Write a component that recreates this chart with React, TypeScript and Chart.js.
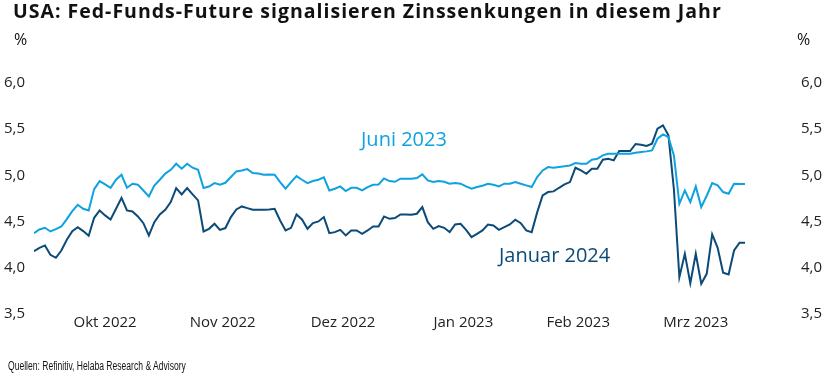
import React, { useEffect, useRef } from "react";
import { Chart, registerables } from "chart.js";

Chart.register(...registerables);

// Business-day range covered by the chart
const startDate = "2022-09-28";
const endDate = "2023-03-29";

// Month tick labels (placed at the middle of each calendar month)
const monthKeys = ["2022-10", "2022-11", "2022-12", "2023-01", "2023-02", "2023-03"];
const monthLabels = ["Okt 2022", "Nov 2022", "Dez 2022", "Jan 2023", "Feb 2023", "Mrz 2023"];

// Y-axis ticks
const yTicks = [3.5, 4.0, 4.5, 5.0, 5.5, 6.0];

// Fed-Funds-Future, Juni 2023 (%)
const juni2023 = [
  4.375, 4.415, 4.433, 4.393, 4.418, 4.447, 4.527, 4.613, 4.682, 4.639,
  4.621, 4.852, 4.938, 4.902, 4.866, 4.953, 5.007, 4.866, 4.91, 4.9,
  4.837, 4.772, 4.89, 4.953, 5.02, 5.06, 5.126, 5.072, 5.126, 5.083,
  5.06, 4.863, 4.88, 4.917, 4.9, 4.92, 4.982, 5.043, 5.054, 5.068,
  5.025, 5.02, 5.007, 5.01, 5.007, 4.928, 4.856, 4.928, 4.993, 4.953,
  4.917, 4.939, 4.953, 4.978, 4.837, 4.856, 4.881, 4.83, 4.866, 4.866,
  4.837, 4.874, 4.899, 4.902, 4.967, 4.939, 4.931, 4.964, 4.964, 4.964,
  4.971, 5.011, 4.946, 4.928, 4.939, 4.931, 4.91, 4.917, 4.91, 4.881,
  4.856, 4.874, 4.888, 4.91, 4.899, 4.881, 4.91, 4.91, 4.928, 4.91,
  4.892, 4.874, 4.982, 5.054, 5.09, 5.083, 5.09, 5.098, 5.108, 5.134,
  5.126, 5.126, 5.17, 5.18, 5.217, 5.235, 5.235, 5.235, 5.235, 5.235,
  5.245, 5.253, 5.26, 5.271, 5.397, 5.444, 5.415, 5.217, 4.693, 4.837,
  4.711, 4.881, 4.657, 4.78, 4.917, 4.892, 4.82, 4.801, 4.91, 4.906,
  4.906,
];

// Fed-Funds-Future, Januar 2024 (%)
const januar2024 = [
  4.18, 4.216, 4.242, 4.14, 4.108, 4.187, 4.303, 4.397, 4.44, 4.397,
  4.346, 4.541, 4.621, 4.567, 4.523, 4.639, 4.758, 4.621, 4.61, 4.556,
  4.483, 4.35, 4.494, 4.577, 4.628, 4.711, 4.863, 4.794, 4.863, 4.794,
  4.729, 4.393, 4.422, 4.477, 4.41, 4.43, 4.549, 4.632, 4.664, 4.646,
  4.628, 4.628, 4.628, 4.632, 4.639, 4.512, 4.404, 4.433, 4.577, 4.523,
  4.422, 4.483, 4.502, 4.549, 4.375, 4.386, 4.411, 4.35, 4.404, 4.404,
  4.368, 4.404, 4.447, 4.447, 4.556, 4.53, 4.538, 4.577, 4.577, 4.574,
  4.585, 4.657, 4.494, 4.422, 4.451, 4.433, 4.386, 4.469, 4.476, 4.411,
  4.332, 4.368, 4.404, 4.469, 4.458, 4.411, 4.44, 4.469, 4.52, 4.483,
  4.404, 4.386, 4.6, 4.783, 4.82, 4.827, 4.866, 4.902, 4.928, 5.083,
  5.054, 5.018, 5.072, 5.072, 5.17, 5.18, 5.163, 5.264, 5.264, 5.264,
  5.34, 5.332, 5.318, 5.343, 5.505, 5.542, 5.433, 4.85, 3.898, 4.151,
  3.833, 4.151, 3.827, 3.935, 4.361, 4.216, 3.946, 3.927, 4.187, 4.271,
  4.271,
];

const LIGHT = "#0ea2e0";
const DARK = "#0c4a78";
const FONT = "'Open Sans', 'Noto Sans', sans-serif";

function businessDays(from: string, to: string): string[] {
  const out: string[] = [];
  const d = new Date(from + "T00:00:00Z");
  const end = new Date(to + "T00:00:00Z");
  while (d <= end) {
    const wd = d.getUTCDay();
    if (wd !== 0 && wd !== 6) out.push(d.toISOString().slice(0, 10));
    d.setUTCDate(d.getUTCDate() + 1);
  }
  return out;
}

function monthMiddles(): number[] {
  // business-day index positions, extended to cover complete months
  const all = businessDays(startDate, "2023-03-31");
  return monthKeys.map((k) => {
    const idx = all.map((s, i) => (s.startsWith(k) ? i : -1)).filter((i) => i >= 0);
    return (idx[0] + idx[idx.length - 1]) / 2;
  });
}

export default function App() {
  const ref = useRef<HTMLCanvasElement | null>(null);

  useEffect(() => {
    const dates = businessDays(startDate, endDate);
    const mids = monthMiddles();
    const toPts = (arr: number[]) => arr.map((y, i) => ({ x: i, y }));
    const tickFont = { family: FONT, size: 15 };
    const fmt = (v: any) => Number(v).toFixed(1).replace(".", ",");
    const chart = new Chart(ref.current as HTMLCanvasElement, {
      type: "line",
      data: {
        datasets: [
          {
            label: "Juni 2023",
            data: toPts(juni2023),
            borderColor: LIGHT,
            borderWidth: 2,
            pointRadius: 0,
            tension: 0,
            yAxisID: "y",
          },
          {
            label: "Januar 2024",
            data: toPts(januar2024),
            borderColor: DARK,
            borderWidth: 2,
            pointRadius: 0,
            tension: 0,
            yAxisID: "y",
          },
        ],
      },
      options: {
        animation: false,
        responsive: false,
        maintainAspectRatio: false,
        layout: { padding: { left: 2, right: 5, top: 83, bottom: 47 } },
        plugins: { legend: { display: false }, tooltip: { enabled: false } },
        scales: {
          x: {
            type: "linear",
            min: 0,
            max: dates.length - 1,
            grid: { display: false, drawTicks: false },
            border: { display: false },
            afterBuildTicks: (axis: any) => {
              axis.ticks = mids.map((v) => ({ value: v }));
            },
            ticks: {
              autoSkip: false,
              maxRotation: 0,
              padding: 0,
              color: "#222",
              font: tickFont,
              callback: (_v: any, i: number) => monthLabels[i],
            },
          },
          y: {
            position: "left",
            min: 3.5,
            max: 6.0,
            grid: { display: false, drawTicks: false },
            border: { display: false },
            afterBuildTicks: (axis: any) => {
              axis.ticks = yTicks.map((v) => ({ value: v }));
            },
            afterFit: (axis: any) => {
              axis.width = 32;
            },
            ticks: { padding: 9, color: "#222", font: tickFont, callback: fmt },
          },
          y2: {
            position: "right",
            min: 3.5,
            max: 6.0,
            grid: { display: false, drawTicks: false },
            border: { display: false },
            afterBuildTicks: (axis: any) => {
              axis.ticks = yTicks.map((v) => ({ value: v }));
            },
            afterFit: (axis: any) => {
              axis.width = 78;
            },
            ticks: { padding: 56, color: "#222", font: tickFont, callback: fmt },
          },
        },
      },
    });
    return () => chart.destroy();
  }, []);

  const abs = (extra: React.CSSProperties): React.CSSProperties => ({
    position: "absolute",
    whiteSpace: "nowrap",
    lineHeight: 1,
    fontFamily: FONT,
    ...extra,
  });

  return (
    <div style={{ position: "fixed", left: 0, top: 0, width: 828, height: 379, background: "#fff", overflow: "hidden" }}>
      <canvas ref={ref} width={828} height={379} style={{ position: "absolute", left: 0, top: 0, width: 828, height: 379 }} />
      <div style={abs({ left: 13, top: 1, fontSize: 19.5, fontWeight: 700, letterSpacing: 1, color: "#111" })}>
        USA: Fed-Funds-Future signalisieren Zinssenkungen in diesem Jahr
      </div>
      <div style={abs({ left: 14, top: 31, fontSize: 16, color: "#111" })}>%</div>
      <div style={abs({ left: 797, top: 31, fontSize: 16, color: "#111" })}>%</div>
      <div style={abs({ left: 361, top: 129, fontSize: 20, color: LIGHT })}>Juni 2023</div>
      <div style={abs({ left: 499, top: 245, fontSize: 20, color: DARK })}>Januar 2024</div>
      <div
        style={abs({
          left: 8,
          top: 360,
          fontSize: 12.5,
          color: "#111",
          fontFamily: "'Liberation Sans Narrow', 'Liberation Sans', sans-serif",
          transform: "scaleX(0.685)",
          transformOrigin: "0 0",
        })}
      >
        Quellen: Refinitiv, Helaba Research &amp; Advisory
      </div>
    </div>
  );
}
